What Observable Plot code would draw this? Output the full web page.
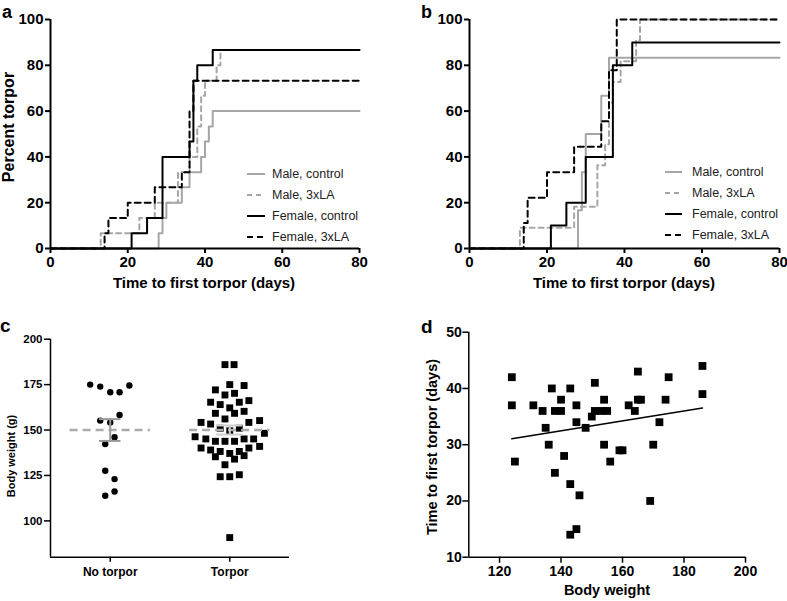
<!DOCTYPE html>
<html><head><meta charset="utf-8">
<script src="https://cdn.jsdelivr.net/npm/d3@7"></script>
<script src="https://cdn.jsdelivr.net/npm/@observablehq/plot@0.6"></script>
<style>
body{margin:0;background:#fff;}
#root{position:relative;width:787px;height:601px;overflow:hidden;background:#fff;}
#root > svg{position:absolute;}
</style></head><body><div id="root"></div>
<script>
// ---------- DATA ----------
// Panel a (time in days, percent torpor), step-after curves
const aMaleCtrlT = [0, 28, 29, 30, 34, 36, 39, 40, 41, 42, 80];
const aMaleCtrlP = [0, 6.7, 13.3, 20, 26.7, 33.3, 40, 46.7, 53.3, 60, 60];
const aMaleLAT   = [0, 13, 23, 27, 33, 36, 38, 39, 40, 43, 44, 80];
const aMaleLAP   = [0, 6.7, 13.3, 20, 33.3, 40, 53.3, 66.7, 73.3, 80, 86.7, 86.7];
const aFemCtrlT  = [0, 21, 25, 29, 36, 37, 38, 42, 80];
const aFemCtrlP  = [0, 6.7, 13.3, 40, 46.7, 73.3, 80, 86.7, 86.7];
const aFemLAT    = [0, 14, 15, 20, 27, 34, 36, 37, 80];
const aFemLAP    = [0, 6.7, 13.3, 20, 26.7, 33.3, 60, 73.3, 73.3];
// Panel b
const bMaleCtrlT = [0, 28, 29, 30, 34, 36, 80];
const bMaleCtrlP = [0, 16.7, 33.3, 50, 66.7, 83.3, 83.3];
const bMaleLAT   = [0, 13, 27, 33, 35, 36, 37, 39, 43, 44, 80];
const bMaleLAP   = [0, 9.1, 18.2, 36.4, 45.5, 63.6, 72.7, 81.8, 90.9, 100, 100];
const bFemCtrlT  = [0, 21, 25, 30, 37, 42, 80];
const bFemCtrlP  = [0, 10, 20, 40, 80, 90, 90];
const bFemLAT    = [0, 14, 15, 20, 27, 34, 36, 38, 80];
const bFemLAP    = [0, 11.1, 22.2, 33.3, 44.4, 55.6, 77.8, 100, 100];
const seriesLabels = ["Male, control", "Male, 3xLA", "Female, control", "Female, 3xLA"];

// Panel c (body weight, g) with beeswarm offsets
const groups = ["No torpor", "Torpor"];
const noTorporWeight = [175, 173.9, 170.8, 170.8, 174.5, 158.3, 155.2, 154.2, 146, 142.3, 127.6, 123, 116.2, 113.8];
const noTorporOffset = [-0.168, -0.084, 0, 0.078, 0.16, 0.078, -0.084, 0, 0.036, -0.042, -0.042, 0.036, 0.036, -0.042];
const torporWeight = [186, 186, 175, 172.1, 174.5, 169.3, 170.2, 165.3, 164, 165.3, 166.2, 162.2, 159.2, 159.2, 160.3, 156.1,
  154.2, 153.3, 154.2, 155.2, 151, 149.6, 151, 148.2, 146.3, 145.1, 143.8, 143.8, 143.8, 145.1, 145.1,
  140.1, 139, 138.2, 137.1, 138.2, 140.1, 141, 135.3, 135.9, 134, 130.9, 124.3, 124.3, 125.4, 90.8];
const torporOffset = [-0.04, 0.036, 0, -0.12, 0.12, -0.04, 0.04, -0.16, -0.08, 0.08, 0.16, 0, -0.12, 0.04, 0.12, -0.04,
  -0.24, -0.16, 0.16, 0.25, -0.08, 0, 0.08, 0.29, -0.29, -0.2, -0.12, -0.04, 0.04, 0.12, 0.2,
  -0.24, -0.16, -0.08, 0, 0.08, 0.16, 0.25, -0.12, 0.12, 0.04, -0.04, -0.08, 0, 0.08, 0];
const groupMean = [150, 150];
const groupLow  = [144, 147.5];
const groupHigh = [156, 152.5];

// Panel d (body weight vs time to first torpor)
const dWeight = [124,124,125,131,134,135,136,137,138,140,140,138,141,143,143,143,145,145,145,146,148,150,151,151,153,155,154,154,156,159,160,162,164,165,165,166,169,170,172,174,175,186,186];
const dTime   = [42,37,27,37,36,33,30,40,36,36,38,25,28,40,23,14,15,37,34,21,33,35,41,36,36,36,38,30,27,29,29,37,36,43,38,38,20,30,34,38,42,44,39];

// ---------- STYLE ----------
const FONT = "'Liberation Sans', Arial, sans-serif";
const GRAY = "#a6a6a6";
const BLACK = "#000";
const seriesStyle = [
  {stroke: GRAY, dash: null},
  {stroke: GRAY, dash: "5,4"},
  {stroke: BLACK, dash: null},
  {stroke: BLACK, dash: "6,4"}
];
const root = document.getElementById("root");
function place(svg, left, top) { svg.style.left = left + "px"; svg.style.top = top + "px"; root.appendChild(svg); }
const rows = (t, p) => t.map((d, i) => ({t: d, p: p[i]}));

function survival(seriesData, o) {
  const order = [0, 1, 3, 2];
  return Plot.plot({
    width: o.width, height: 300,
    marginLeft: o.ml, marginRight: o.mr, marginTop: 19, marginBottom: 52,
    style: {fontFamily: FONT, fontWeight: "bold", color: "#000", background: "transparent", overflow: "visible"},
    x: {domain: [0, 80]},
    y: {domain: [0, 100]},
    marks: [
      Plot.axisX({ticks: [0, 20, 40, 60, 80], tickSize: 5, tickPadding: 3, fontSize: 15, fontWeight: "bold", strokeWidth: 2, label: null}),
      Plot.axisY({ticks: [0, 20, 40, 60, 80, 100], tickSize: 5, tickPadding: 2, fontSize: 15, fontWeight: "bold", strokeWidth: 2, label: null}),
      ...order.map(i => Plot.line(seriesData[i], {x: "t", y: "p", curve: "step-after", stroke: seriesStyle[i].stroke,
        strokeWidth: 2, strokeDasharray: seriesStyle[i].dash})),
      Plot.ruleX([0], {strokeWidth: 2}),
      Plot.ruleY([0], {strokeWidth: 2})
    ]
  });
}

place(survival([rows(aMaleCtrlT, aMaleCtrlP), rows(aMaleLAT, aMaleLAP), rows(aFemCtrlT, aFemCtrlP), rows(aFemLAT, aFemLAP)],
  {width: 393, ml: 50, mr: 34}), 0, 0);
place(survival([rows(bMaleCtrlT, bMaleCtrlP), rows(bMaleLAT, bMaleLAP), rows(bFemCtrlT, bFemCtrlP), rows(bFemLAT, bFemLAP)],
  {width: 392, ml: 74, mr: 8}), 395, 0);

// Panel c
const cNo = noTorporWeight.map((w, i) => ({x: 1 + noTorporOffset[i], w}));
const cYes = torporWeight.map((w, i) => ({x: 2 + torporOffset[i], w}));
const cStats = groups.map((g, i) => ({pos: i + 1, mean: groupMean[i], lo: groupLow[i], hi: groupHigh[i]}));
const meanHalf = 0.336, capHalf = [0.09, 0.11], barColor = ["#999", "#cfcfcf"];
place(Plot.plot({
  width: 393, height: 301,
  marginLeft: 50, marginRight: 104, marginTop: 38.7, marginBottom: 44.3,
  style: {fontFamily: FONT, fontWeight: "bold", color: "#000", background: "transparent", overflow: "visible"},
  x: {domain: [0.5, 2.5]},
  y: {domain: [80, 200]},
  marks: [
    Plot.axisY({ticks: [100, 125, 150, 175, 200], tickSize: 6, tickPadding: 2, fontSize: 11.5, fontWeight: "bold", strokeWidth: 1.5, label: null}),
    Plot.axisX({ticks: [1, 2], tickFormat: v => groups[v - 1], tickSize: 5, tickPadding: 5, fontSize: 12, fontWeight: "bold", strokeWidth: 1.5, label: null}),
    Plot.dot(cNo, {x: "x", y: "w", r: 3.2, fill: "#000", symbol: "circle"}),
    Plot.dot(cYes, {x: "x", y: "w", r: 3.9, fill: "#000", symbol: "square"}),
    Plot.ruleY(cStats, {y: "mean", x1: d => d.pos - meanHalf, x2: d => d.pos + meanHalf, stroke: "#aaa", strokeWidth: 2.5, strokeDasharray: "8,5"}),
    Plot.ruleX(cStats, {x: "pos", y1: "lo", y2: "hi", stroke: (d, i) => barColor[i], strokeWidth: 2}),
    Plot.ruleY(cStats, {y: "lo", x1: (d, i) => d.pos - capHalf[i], x2: (d, i) => d.pos + capHalf[i], stroke: (d, i) => barColor[i], strokeWidth: 2}),
    Plot.ruleY(cStats, {y: "hi", x1: (d, i) => d.pos - capHalf[i], x2: (d, i) => d.pos + capHalf[i], stroke: (d, i) => barColor[i], strokeWidth: 2}),
    Plot.ruleX([0.5], {strokeWidth: 1.5}),
    Plot.ruleY([80], {strokeWidth: 1.5})
  ]
}), 0, 300);

// Panel d
const dData = dWeight.map((w, i) => ({w, t: dTime[i]}));
place(Plot.plot({
  width: 392, height: 301,
  marginLeft: 73.3, marginRight: 42, marginTop: 31.7, marginBottom: 44.3,
  style: {fontFamily: FONT, fontWeight: "bold", color: "#000", background: "transparent", overflow: "visible"},
  x: {domain: [110, 200]},
  y: {domain: [10, 50]},
  marks: [
    Plot.axisX({ticks: [120, 140, 160, 180, 200], tickSize: 6, tickPadding: 3, fontSize: 14, fontWeight: "bold", strokeWidth: 1.5, label: null}),
    Plot.axisY({ticks: [10, 20, 30, 40, 50], tickSize: 6, tickPadding: 1, fontSize: 14, fontWeight: "bold", strokeWidth: 1.5, label: null}),
    Plot.dot(dData, {x: "w", y: "t", r: 4.4, fill: "#000", symbol: "square"}),
    Plot.linearRegressionY(dData, {x: "w", y: "t", ci: 0, stroke: "#000", strokeWidth: 1.5}),
    Plot.ruleX([110], {strokeWidth: 1.5}),
    Plot.ruleY([10], {strokeWidth: 1.5})
  ]
}), 395, 300);

// ---------- Overlay: titles, legends, panel letters ----------
const ov = d3.select("#root").append("svg").attr("width", 787).attr("height", 601)
  .style("position", "absolute").style("left", "0px").style("top", "0px")
  .style("font-family", FONT);
function txt(s, x, y, size, weight, opts = {}) {
  const t = ov.append("text").attr("x", x).attr("y", y).attr("font-size", size).attr("font-weight", weight)
    .attr("fill", opts.fill || "#000").attr("text-anchor", opts.anchor || "start").text(s);
  if (opts.rotate) t.attr("transform", `rotate(-90,${x},${y})`);
  return t;
}
txt("a", 2, 18, 18, "bold");
txt("b", 421, 18, 18, "bold");
txt("c", 0, 332, 19, "bold");
txt("d", 421, 333, 19, "bold");
txt("Time to first torpor (days)", 204, 288, 15, "bold", {anchor: "middle"});
txt("Time to first torpor (days)", 624, 288, 15, "bold", {anchor: "middle"});
txt("Percent torpor", 14, 127, 16, "bold", {anchor: "middle", rotate: true});
txt("Body weight (g)", 15, 456, 11, "bold", {anchor: "middle", rotate: true});
txt("Body weight", 607, 595, 14.5, "bold", {anchor: "middle"});
txt("Time to first torpor (days)", 437, 447, 14.5, "bold", {anchor: "middle", rotate: true});

function legend(x0, x1, tx, ys) {
  seriesLabels.forEach((lab, i) => {
    ov.append("line").attr("x1", x0).attr("x2", x1).attr("y1", ys[i]).attr("y2", ys[i])
      .attr("stroke", seriesStyle[i].stroke).attr("stroke-width", 2)
      .attr("stroke-dasharray", seriesStyle[i].dash);
    txt(lab, tx, ys[i], 12.5, "normal", {fill: "#222"}).attr("dy", "0.35em");
  });
}
legend(247, 265, 272, [174, 195, 216, 237]);
legend(665, 682, 692, [172, 193, 214, 235]);
</script></body></html>
